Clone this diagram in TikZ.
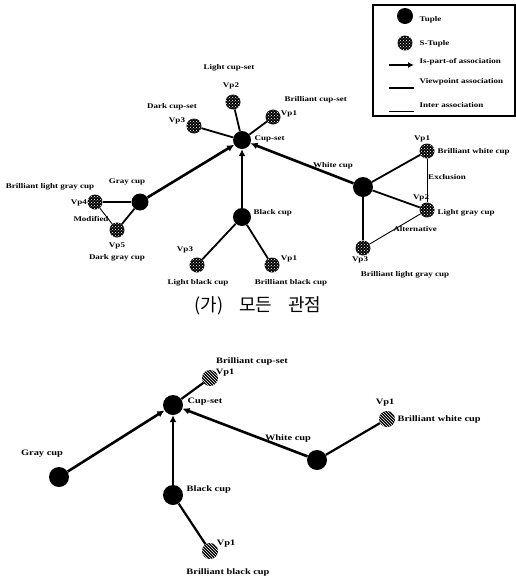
\documentclass[tikz,border=0pt]{standalone}
\usepackage{fontspec}
\setmainfont{Liberation Serif}
\newfontfamily\labfont{Liberation Serif}[FakeStretch=1.25]
\newfontfamily\krfont{Noto Sans CJK KR}
\usetikzlibrary{patterns,arrows.meta}

\begin{document}
\begin{tikzpicture}[x=1pt,y=-1pt,
  tuple/.style={circle,fill=black,inner sep=0pt,minimum size=#1},
  tuple/.default=18pt,
  stuple/.style={circle,fill=black,inner sep=0pt,minimum size=15pt,
    postaction={pattern=crosshatch dots,pattern color=white}},
  stupleb/.style={circle,fill=black,inner sep=0pt,minimum size=16pt,
    postaction={pattern=north west lines,pattern color=white}},
  lab/.style={font=\labfont\bfseries\fontsize{7.2}{8}\selectfont,inner sep=0.5pt},
  labb/.style={font=\labfont\bfseries\fontsize{8.3}{9}\selectfont,inner sep=0.5pt},
  partof/.style={line width=2.6pt,-{Latex[length=7pt,width=7pt]}},
  viewpt/.style={line width=1.8pt},
  viewptb/.style={line width=2.2pt},
  inter/.style={line width=0.9pt},
]
\useasboundingbox (0,0) rectangle (516,579);

% ---------- legend ----------
\draw[line width=1.2pt] (373,5) rectangle (515,116);
\node[tuple=16pt] (lgT) at (405,16) {};
\node[lab,anchor=west] (lgTt) at (419,20) {Tuple};
\node[stuple] (lgS) at (405,43) {};
\node[lab,anchor=west] (lgSt) at (419,44) {S-Tuple};
\coordinate (lgA1) at (389,65);
\coordinate (lgA2) at (414,65);
\draw[line width=2.2pt,-{Latex[length=6pt,width=6pt]}] (lgA1) -- (lgA2);
\node[lab,anchor=west] (lgAt) at (419,62) {Is-part-of association};
\coordinate (lgV1) at (389,88);
\coordinate (lgV2) at (414,88);
\draw[viewpt] (lgV1) -- (lgV2);
\node[lab,anchor=west] (lgVt) at (419,82) {Viewpoint association};
\coordinate (lgI1) at (389,111);
\coordinate (lgI2) at (414,111);
\draw[inter] (lgI1) -- (lgI2);
\node[lab,anchor=west] (lgIt) at (419,105) {Inter association};

% ---------- all viewpoints ----------
\node[tuple] (cs) at (242,140) {};
\node[lab,anchor=west] (csl) at (254,139) {Cup-set};

\node[stuple] (v2t) at (233,102) {};
\node[lab] (v2tn) at (231,86) {Vp2};
\node[lab] (v2tl) at (229,68) {Light cup-set};

\node[stuple] (v1t) at (273,117) {};
\node[lab] (v1tn) at (289,114) {Vp1};
\node[lab,anchor=west] (v1tl) at (284,100) {Brilliant cup-set};

\node[stuple] (v3t) at (194,126) {};
\node[lab] (v3tn) at (177,121) {Vp3};
\node[lab] (v3tl) at (172,107) {Dark cup-set};

\node[tuple=17pt] (gr) at (140,202) {};
\node[lab] (grl) at (127,182) {Gray cup};
\node[stuple] (v4) at (95,202) {};
\node[lab] (v4n) at (79,203) {Vp4};
\node[lab] (v4l) at (50,187) {Brilliant light gray cup};
\node[stuple] (v5) at (117,230) {};
\node[lab] (v5n) at (117,246) {Vp5};
\node[lab] (v5l) at (117,258) {Dark gray cup};
\node[lab] (modl) at (91,219) {Modified};

\node[tuple] (bk) at (242,217) {};
\node[lab,anchor=west] (bkl) at (253,213) {Black cup};
\node[stuple] (v3b) at (197,265) {};
\node[lab] (v3bn) at (185,250) {Vp3};
\node[lab] (v3bl) at (198,283) {Light black cup};
\node[stuple] (v1b) at (272,265) {};
\node[lab] (v1bn) at (289,259) {Vp1};
\node[lab] (v1bl) at (291,283) {Brilliant black cup};

\node[tuple=20pt] (wh) at (363,187) {};
\node[lab] (whl) at (333,166) {White cup};
\node[stuple] (v1r) at (427,151) {};
\node[lab] (v1rn) at (422,139) {Vp1};
\node[lab,anchor=west] (v1rl) at (437,152) {Brilliant white cup};
\node[stuple] (v2r) at (427,210) {};
\node[lab] (v2rn) at (421,198) {Vp2};
\node[lab,anchor=west] (v2rl) at (437,213) {Light gray cup};
\node[stuple] (v3r) at (363,248) {};
\node[lab] (v3rn) at (360,260) {Vp3};
\node[lab] (v3rl) at (405,275) {Brilliant light gray cup};
\node[lab] (excl) at (447,177) {Exclusion};
\node[lab] (altl) at (415,229) {Alternative};

\draw[partof] (gr) -- (cs);
\draw[partof] (bk) -- (cs);
\draw[partof] (wh) -- (cs);
\draw[viewpt] (cs) -- (v2t);
\draw[viewpt] (cs) -- (v1t);
\draw[viewpt] (cs) -- (v3t);
\draw[viewpt] (gr) -- (v4);
\draw[viewpt] (gr) -- (v5);
\draw[viewpt] (bk) -- (v3b);
\draw[viewpt] (bk) -- (v1b);
\draw[viewpt] (wh) -- (v1r);
\draw[viewpt] (wh) -- (v2r);
\draw[viewpt] (wh) -- (v3r);
\draw[inter] (v4) -- (v5);
\draw[inter] (v1r) -- (v2r);
\draw[inter] (v2r) -- (v3r);

\node[font=\krfont\fontsize{18}{20}\selectfont] (cap) at (258,306)
  {(가)\hspace{16pt}모든\hspace{16pt}관점};

% ---------- one viewpoint ----------
\node[tuple=20pt] (cs2) at (173,405) {};
\node[labb,anchor=west] (cs2l) at (187,402) {Cup-set};
\node[stupleb] (u1) at (210,378) {};
\node[labb] (u1n) at (225,373) {Vp1};
\node[labb] (u1l) at (252,361) {Brilliant cup-set};

\node[tuple=20pt] (gr2) at (59,477) {};
\node[labb] (gr2l) at (42,454) {Gray cup};

\node[tuple=20pt] (bk2) at (173,495) {};
\node[labb,anchor=west] (bk2l) at (186,489) {Black cup};
\node[stupleb] (l1) at (210,551) {};
\node[labb] (l1n) at (226,544) {Vp1};
\node[labb] (l1l) at (228,572) {Brilliant black cup};

\node[tuple=20pt] (wh2) at (317,460) {};
\node[labb] (wh2l) at (288,438) {White cup};
\node[stupleb] (r1) at (387,419) {};
\node[labb] (r1n) at (385,403) {Vp1};
\node[labb,anchor=west] (r1l) at (397,419) {Brilliant white cup};

\draw[partof] (gr2) -- (cs2);
\draw[partof] (bk2) -- (cs2);
\draw[partof] (wh2) -- (cs2);
\draw[viewptb] (cs2) -- (u1);
\draw[viewptb] (bk2) -- (l1);
\draw[viewptb] (wh2) -- (r1);
\end{tikzpicture}
\end{document}
